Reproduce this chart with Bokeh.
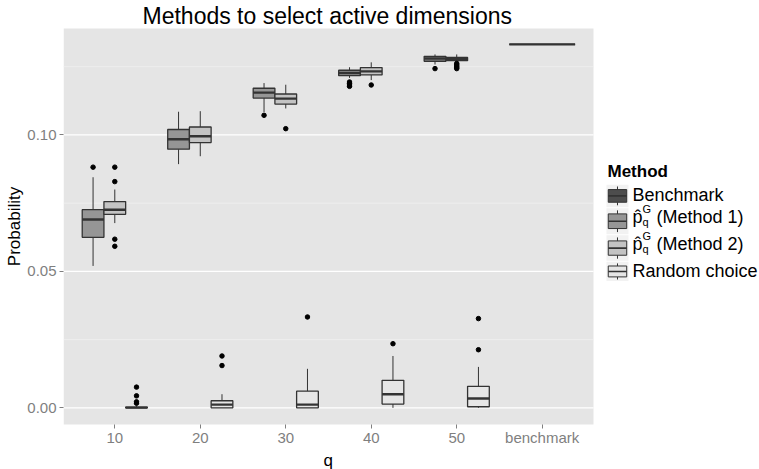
from bokeh.plotting import figure
from bokeh.models import Range1d, FixedTicker, PrintfTickFormatter, Title
from bokeh.embed import file_html
from bokeh.resources import INLINE
from bokeh.core.properties import value

FONT = "Liberation Sans"

# ---------------- data ----------------
categories = ["10", "20", "30", "40", "50", "benchmark"]

# Method 1 (p_q^G), categories 10..50
m1_lower = [0.0520, 0.0893, 0.1084, 0.1209, 0.1258]
m1_q1 = [0.0625, 0.0948, 0.1135, 0.1217, 0.1270]
m1_med = [0.0690, 0.0984, 0.1155, 0.1227, 0.1280]
m1_q3 = [0.0726, 0.1020, 0.1171, 0.1237, 0.1288]
m1_upper = [0.0845, 0.1085, 0.1190, 0.1248, 0.1295]
m1_out_cat = ["10", "30", "40", "40", "40", "40", "50"]
m1_out_val = [0.0882, 0.1072, 0.1194, 0.1188, 0.1183, 0.1178, 0.1243]

# Method 2 (p_q^G), categories 10..50
m2_lower = [0.0677, 0.0922, 0.1097, 0.1201, 0.1266]
m2_q1 = [0.0709, 0.0972, 0.1113, 0.1220, 0.1272]
m2_med = [0.0726, 0.0995, 0.1133, 0.1233, 0.1278]
m2_q3 = [0.0756, 0.1029, 0.1150, 0.1247, 0.1284]
m2_upper = [0.0800, 0.1087, 0.1184, 0.1266, 0.1295]
m2_out_cat = ["10", "10", "10", "10", "30", "40", "50", "50", "50", "50", "50"]
m2_out_val = [0.0882, 0.0829, 0.0618, 0.0592, 0.1023, 0.1183,
              0.1262, 0.1257, 0.1252, 0.1247, 0.1243]

# Random choice, categories 10..50
rc_lower = [0.0, 0.0, 0.0, 0.0, 0.0]
rc_q1 = [0.0, 0.0, 0.0, 0.0014, 0.0004]
rc_med = [0.0001, 0.0012, 0.0012, 0.0050, 0.0034]
rc_q3 = [0.0003, 0.0026, 0.0061, 0.0101, 0.0079]
rc_upper = [0.0008, 0.0050, 0.0143, 0.0190, 0.0150]
rc_out_cat = ["10", "10", "10", "10", "20", "20", "30", "40", "50", "50"]
rc_out_val = [0.0076, 0.0044, 0.0022, 0.0017, 0.0190, 0.0155, 0.0333, 0.0235, 0.0213, 0.0327]

# Benchmark
bm_value = [0.1332]

y_ticks = [0.0, 0.05, 0.10]
y_minor = [0.025, 0.075, 0.125]

legend_names = ["Benchmark", "Method 1", "Method 2", "Random choice"]
fills = ["#4D4D4D", "#969696", "#C3C3C3", "#E6E6E6"]

# ---------------- geometry ----------------
W, H = 759, 469
BL = 63
FRAME_W = W - BL
PANEL_X0, PANEL_X1 = 0.4, 6.6
PX = 530 / (PANEL_X1 - PANEL_X0)          # pixels per category unit
X_END = PANEL_X0 + FRAME_W / PX
PY = 2733.0                                 # pixels per probability unit
Y0, Y1 = -0.0061, 0.1390

pos = {c: i + 1 for i, c in enumerate(categories)}
q_cats = categories[:5]
DODGE = 0.254
HW = 0.127
EDGE = "#333333"

p = figure(width=W, height=H, x_range=Range1d(PANEL_X0, X_END),
           y_range=Range1d(Y0, Y1),
           output_backend="svg", toolbar_location=None,
           min_border_left=BL, min_border_right=0, min_border_top=0,
           min_border_bottom=0,
           background_fill_color="white", border_fill_color="white",
           outline_line_color=None)
p.xgrid.visible = False
p.ygrid.visible = False

# title (left aligned with an offset so it is centred on the panel)
p.title = Title(text="Methods to select active dimensions", align="left", offset=79,
                text_font=FONT, text_font_size="23px", text_font_style="normal",
                text_color="black", standoff=0)
p.add_layout(Title(text="q", align="left", offset=260, text_font=FONT,
                   text_font_size="17px", text_font_style="normal",
                   text_color="black", standoff=0), "below")

# panel background + grid lines (panel only)
p.quad(left=[PANEL_X0], right=[PANEL_X1], bottom=[Y0 - 0.01], top=[Y1 + 0.01],
       fill_color="#E5E5E5", line_color=None)
p.segment(x0=[PANEL_X0] * len(y_minor), x1=[PANEL_X1] * len(y_minor), y0=y_minor, y1=y_minor,
          line_color="#F2F2F2", line_width=0.7)
p.segment(x0=[PANEL_X0] * len(y_ticks), x1=[PANEL_X1] * len(y_ticks), y0=y_ticks, y1=y_ticks,
          line_color="white", line_width=1.3)


def draw_box(xs, hw, lower, q1, med, q3, upper, fill):
    p.segment(x0=xs, y0=q3, x1=xs, y1=upper, line_color=EDGE, line_width=1)
    p.segment(x0=xs, y0=q1, x1=xs, y1=lower, line_color=EDGE, line_width=1)
    p.quad(left=[x - hw for x in xs], right=[x + hw for x in xs],
           bottom=q1, top=q3, fill_color=fill, line_color=EDGE, line_width=1.3)
    p.segment(x0=[x - hw for x in xs], y0=med, x1=[x + hw for x in xs], y1=med,
              line_color=EDGE, line_width=2.4)


def draw_out(cats, vals, off):
    p.scatter(x=[pos[c] + off for c in cats], y=vals, size=4.5,
              fill_color="black", line_color="black")


xs_m1 = [pos[c] - DODGE for c in q_cats]
xs_m2 = [pos[c] for c in q_cats]
xs_rc = [pos[c] + DODGE for c in q_cats]

draw_box(xs_m1, HW, m1_lower, m1_q1, m1_med, m1_q3, m1_upper, fills[1])
draw_out(m1_out_cat, m1_out_val, -DODGE)
draw_box(xs_m2, HW, m2_lower, m2_q1, m2_med, m2_q3, m2_upper, fills[2])
draw_out(m2_out_cat, m2_out_val, 0.0)
draw_box(xs_rc, HW, rc_lower, rc_q1, rc_med, rc_q3, rc_upper, fills[3])
draw_out(rc_out_cat, rc_out_val, DODGE)
draw_box([pos["benchmark"]], 0.385, bm_value, bm_value, bm_value, bm_value, bm_value, fills[0])

# axes
p.xaxis.ticker = FixedTicker(ticks=[pos[c] for c in categories])
p.xaxis.major_label_overrides = {pos[c]: c for c in categories}
p.yaxis.ticker = FixedTicker(ticks=y_ticks)
p.yaxis.formatter = PrintfTickFormatter(format="%.2f")
for ax in (p.xaxis, p.yaxis):
    ax.axis_line_color = None
    ax.major_tick_line_color = "#7F7F7F"
    ax.major_tick_out = 4
    ax.major_tick_in = 0
    ax.minor_tick_line_color = None
    ax.major_label_text_font = FONT
    ax.major_label_text_font_size = "15px"
    ax.major_label_text_color = "#7F7F7F"
    ax.axis_label_text_font = FONT
    ax.axis_label_text_font_size = "17px"
    ax.axis_label_text_font_style = "normal"
    ax.axis_label_text_color = "black"
    ax.axis_label_standoff = 0
p.xaxis.major_label_standoff = 0
p.yaxis.major_label_standoff = 3
p.yaxis.axis_label = "Probability"

# ---------------- legend (drawn at the right of the panel) ----------------
def dx(px):
    # reference page x -> category units (category 1 sits at x = 114.3)
    return 1 + (px - 114.3) / PX


def dy(py):
    # reference page y -> probability (0.00 sits at y = 407)
    return (407 - py) / PY


kx0, kx1 = 606, 628
kxm = (kx0 + kx1) / 2
bounds = [183, 206.5, 233.7, 260.3, 280.5]
baselines = [193.5, 216, 243, 269.5]
TX = 632
LFONT = "18px"


def ltext(x, y, s, size=LFONT, style="normal"):
    p.text(x=[dx(x)], y=[dy(y)], text=[s], text_font=value(FONT),
           text_font_size=value(size), text_font_style=style,
           text_baseline="alphabetic", text_color="black")


ltext(kx0 + 1, 170, "Method", size="17px", style="bold")

for i, name in enumerate(legend_names):
    t, b = bounds[i], bounds[i + 1]
    h = b - t
    bw = kx1 - kx0
    p.quad(left=[dx(kx0)], right=[dx(kx1)], top=[dy(t + 0.5)], bottom=[dy(b - 0.5)],
           fill_color="#F2F2F2", line_color=None)
    p.segment(x0=[dx(kxm)] * 2, x1=[dx(kxm)] * 2,
              y0=[dy(t + 0.1 * h), dy(t + 0.77 * h)], y1=[dy(t + 0.23 * h), dy(t + 0.9 * h)],
              line_color=EDGE, line_width=1)
    p.quad(left=[dx(kx0 + 0.08 * bw)], right=[dx(kx0 + 0.92 * bw)],
           top=[dy(t + 0.23 * h)], bottom=[dy(t + 0.77 * h)],
           fill_color=fills[i], line_color=EDGE, line_width=1)
    p.segment(x0=[dx(kx0 + 0.08 * bw)], x1=[dx(kx0 + 0.92 * bw)],
              y0=[dy(t + 0.5 * h)], y1=[dy(t + 0.5 * h)], line_color=EDGE, line_width=1.6)
    bl = baselines[i]
    if name.startswith("Method"):
        ltext(TX, bl, "p\u0302")
        ltext(TX + 10, bl - 8, "G", size="11px")
        ltext(TX + 10, bl + 4.5, "q", size="11px")
        ltext(TX + 24, bl, "(" + name + ")")
    else:
        ltext(TX, bl, name)

open("out.html", "w").write(file_html(p, INLINE))
